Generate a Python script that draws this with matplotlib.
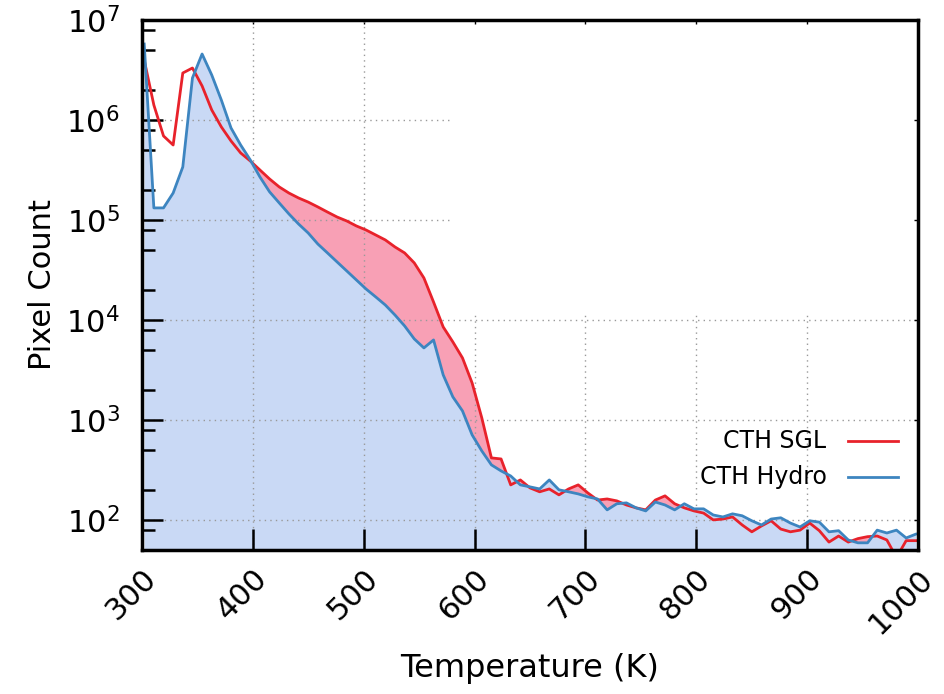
import numpy as np
import matplotlib
matplotlib.use("Agg")
import matplotlib.pyplot as plt
from matplotlib.path import Path
from matplotlib.patches import PathPatch
from matplotlib.ticker import LogLocator, NullFormatter
from matplotlib.lines import Line2D

# temperature bins (K)
temperature = np.linspace(302, 998, 81)

sgl_counts = [
    3980000, 1410000, 692000, 562000, 2950000, 3310000, 2190000, 1260000, 851000, 617000,
    468000, 389000, 316000, 257000, 214000, 186000, 166000, 151000, 135000, 120000,
    107000, 97700, 87100, 79400, 70800, 63100, 53700, 46800, 37200, 26300,
    15100, 8510, 6030, 4170, 2340, 1050, 417, 407, 224, 251,
    209, 191, 204, 178, 204, 224, 186, 158, 162, 155,
    141, 132, 126, 158, 174, 145, 132, 123, 117, 100,
    102, 107, 89, 76, 87, 98, 81, 76, 79, 93,
    78, 60, 69, 60, 65, 68, 69, 63, 42, 62, 62,
]

hydro_counts = [
    5750000, 132000, 132000, 186000, 339000, 2630000, 4570000, 2820000, 1580000, 832000,
    562000, 398000, 269000, 191000, 148000, 115000, 91200, 74100, 57500, 46800,
    38000, 30900, 25100, 20400, 17000, 14100, 11200, 8710, 6460, 5250,
    6310, 2820, 1700, 1230, 708, 490, 355, 309, 275, 224,
    214, 204, 251, 200, 191, 182, 170, 162, 126, 145,
    148, 132, 123, 151, 141, 126, 145, 129, 129, 112,
    107, 115, 110, 98, 89, 102, 105, 93, 85, 98,
    95, 76, 78, 63, 59, 59, 79, 74, 79, 66, 72,
]

series_labels = ["CTH SGL", "CTH Hydro"]
x_ticks = [300, 400, 500, 600, 700, 800, 900, 1000]

red = "#e8222b"
blue = "#3d85c0"
fill_blue = "#c9d9f5"
fill_pink = "#f8a0b5"

T = np.asarray(temperature)
sgl = np.asarray(sgl_counts, dtype=float)
hyd = np.asarray(hydro_counts, dtype=float)

fig = plt.figure(figsize=(9.44, 6.94), dpi=100)
ax = fig.add_axes([142 / 944, (694 - 550) / 694, 776 / 944, 530 / 694])
ax.set_yscale("log")
ax.set_xlim(300, 1000)
ax.set_ylim(50, 1e7)

# fills: area under hydro, and excess of SGL over hydro
ax.fill_between(T, 1, hyd, color=fill_blue, lw=0, zorder=1)
ax.fill_between(T, hyd, sgl, where=(T >= 397) & (sgl > hyd), interpolate=True,
                color=fill_pink, lw=0, zorder=1)

# dotted grid, only drawn over part of the panel like the original
ax.set_xticks(x_ticks)
ax.grid(True, which="major", color="#999999", linestyle=(0, (1, 3)), linewidth=1.0, zorder=2)
ax.set_axisbelow(False)
clip_verts = [(300, 50), (1000, 50), (1000, 1.17e4), (580, 1.17e4), (580, 1e7), (300, 1e7), (300, 50)]
clip_codes = [Path.MOVETO] + [Path.LINETO] * 5 + [Path.CLOSEPOLY]
clip = PathPatch(Path(clip_verts, clip_codes), transform=ax.transData, fc="none", ec="none")
ax.add_patch(clip)
for gl in ax.get_xgridlines() + ax.get_ygridlines():
    gl.set_clip_path(clip)

ax.plot(T, sgl, color=red, lw=2.0, zorder=4)
ax.plot(T, hyd, color=blue, lw=2.0, zorder=5)

# ticks
ax.yaxis.set_minor_locator(LogLocator(base=10, subs=[2, 5, 8]))
ax.yaxis.set_minor_formatter(NullFormatter())
ax.tick_params(which="major", direction="in", length=15, width=1.8, labelsize=22)
ax.tick_params(which="minor", direction="in", length=9, width=1.8)
ax.tick_params(axis="y", pad=16)
ax.tick_params(axis="x", pad=10)
for lab in ax.get_xticklabels():
    lab.set_rotation(45)
    lab.set_ha("right")
    lab.set_va("top")
    lab.set_rotation_mode("anchor")

# small mirrored ticks on top and right
top = ax.secondary_xaxis("top")
top.set_xticks(x_ticks)
top.tick_params(direction="in", length=3, width=1, labeltop=False)
top.spines["top"].set_visible(False)
right = ax.twinx()
right.set_yscale("log")
right.set_ylim(ax.get_ylim())
right.yaxis.set_minor_locator(LogLocator(base=10, subs=[]))
right.tick_params(which="major", direction="in", length=3, width=1, labelright=False)
right.tick_params(which="minor", length=0)
for s in right.spines.values():
    s.set_visible(False)

for s in ax.spines.values():
    s.set_linewidth(2.5)
    s.set_zorder(6)

ax.set_xlabel("Temperature (K)", fontsize=23)
ax.xaxis.set_label_coords(0.5, -0.195)
ax.set_ylabel("Pixel Count", fontsize=22)
ax.yaxis.set_label_coords(-0.11, 0.5)

# gnuplot-like key: right-aligned text with line sample after it
key_y = [0.206, 0.138]
for lbl, col, yy in zip(series_labels, [red, blue], key_y):
    ax.text(0.882, yy, lbl, transform=ax.transAxes, ha="right", va="center", fontsize=17, zorder=7)
    ax.add_line(Line2D([0.91, 0.974], [yy, yy], transform=ax.transAxes, color=col, lw=2.0, zorder=7))

fig.savefig("out.png", dpi=100)
